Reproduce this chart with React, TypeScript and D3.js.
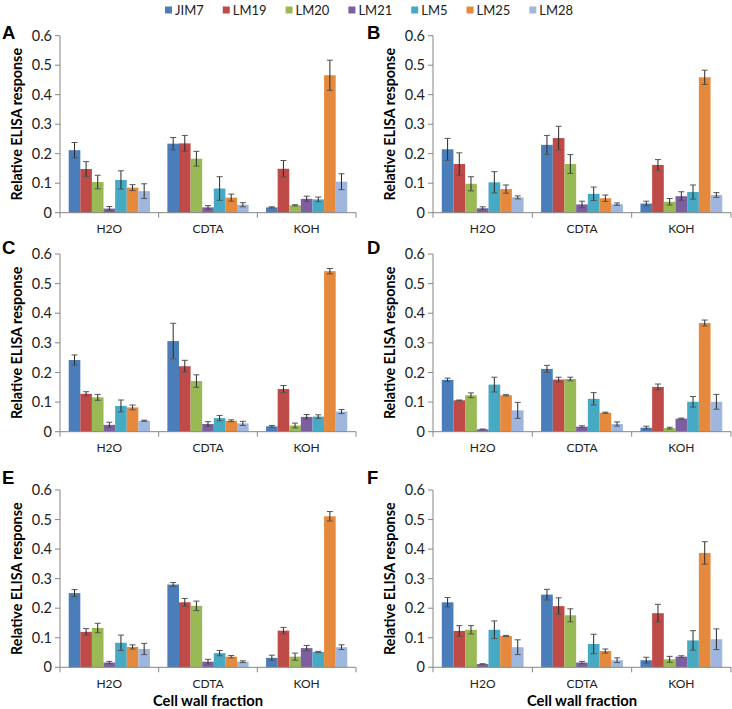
import React from "react";
import * as d3 from "d3";

const categories = ["H2O", "CDTA", "KOH"];
const series = ["JIM7", "LM19", "LM20", "LM21", "LM5", "LM25", "LM28"];
const seriesColors = ["#4A7EBB", "#BE4B48", "#98B954", "#7D5FA0", "#46AAC5", "#E58A3C", "#9FB6DE"];
const yTicks = [0, 0.1, 0.2, 0.3, 0.4, 0.5, 0.6];
const yTickLabels = ["0", "0.1", "0.2", "0.3", "0.4", "0.5", "0.6"];
const panelLabels = ["A", "B", "C", "D", "E", "F"];

// values per category (rows: H2O, CDTA, KOH; columns: series)
const meansA = [
  [0.212, 0.148, 0.104, 0.014, 0.111, 0.085, 0.073],
  [0.234, 0.235, 0.183, 0.018, 0.082, 0.051, 0.027],
  [0.018, 0.149, 0.025, 0.047, 0.045, 0.466, 0.105],
];
const errsA = [
  [0.026, 0.025, 0.023, 0.007, 0.031, 0.01, 0.025],
  [0.021, 0.027, 0.025, 0.006, 0.04, 0.012, 0.007],
  [0.002, 0.028, 0.002, 0.009, 0.008, 0.051, 0.027],
];
const meansB = [
  [0.215, 0.165, 0.098, 0.015, 0.103, 0.08, 0.052],
  [0.23, 0.253, 0.165, 0.028, 0.064, 0.049, 0.029],
  [0.031, 0.162, 0.037, 0.056, 0.07, 0.459, 0.06],
];
const errsB = [
  [0.037, 0.038, 0.024, 0.005, 0.036, 0.014, 0.005],
  [0.032, 0.04, 0.032, 0.011, 0.023, 0.011, 0.004],
  [0.008, 0.018, 0.011, 0.015, 0.024, 0.024, 0.008],
];
const meansC = [
  [0.242, 0.128, 0.116, 0.023, 0.087, 0.082, 0.037],
  [0.306, 0.221, 0.171, 0.026, 0.046, 0.037, 0.028],
  [0.018, 0.144, 0.021, 0.05, 0.051, 0.542, 0.068],
];
const errsC = [
  [0.017, 0.007, 0.01, 0.009, 0.02, 0.008, 0.002],
  [0.06, 0.02, 0.021, 0.008, 0.009, 0.003, 0.007],
  [0.003, 0.012, 0.008, 0.008, 0.006, 0.009, 0.007],
];
const meansD = [
  [0.175, 0.106, 0.123, 0.008, 0.159, 0.123, 0.072],
  [0.212, 0.176, 0.178, 0.017, 0.111, 0.064, 0.026],
  [0.0135, 0.151, 0.012, 0.044, 0.101, 0.367, 0.101],
];
const errsD = [
  [0.006, 0.001, 0.008, 0.001, 0.025, 0.002, 0.027],
  [0.012, 0.008, 0.006, 0.003, 0.021, 0.002, 0.007],
  [0.005, 0.01, 0.003, 0.002, 0.018, 0.01, 0.025],
];
const meansE = [
  [0.251, 0.12, 0.133, 0.016, 0.083, 0.069, 0.062],
  [0.28, 0.22, 0.208, 0.019, 0.048, 0.036, 0.019],
  [0.032, 0.124, 0.036, 0.065, 0.052, 0.511, 0.068],
];
const errsE = [
  [0.012, 0.011, 0.016, 0.004, 0.026, 0.007, 0.019],
  [0.007, 0.013, 0.016, 0.008, 0.009, 0.004, 0.003],
  [0.009, 0.011, 0.012, 0.009, 0.002, 0.016, 0.008],
];
const meansF = [
  [0.22, 0.123, 0.127, 0.011, 0.127, 0.106, 0.068],
  [0.246, 0.207, 0.176, 0.016, 0.079, 0.055, 0.024],
  [0.024, 0.183, 0.027, 0.036, 0.091, 0.387, 0.095],
];
const errsF = [
  [0.016, 0.018, 0.014, 0.001, 0.03, 0.002, 0.025],
  [0.018, 0.028, 0.022, 0.004, 0.033, 0.007, 0.008],
  [0.01, 0.03, 0.01, 0.003, 0.033, 0.038, 0.035],
];

const allMeans = [meansA, meansB, meansC, meansD, meansE, meansF];
const allErrs = [errsA, errsB, errsC, errsD, errsE, errsF];

const W = 732;
const H = 709;
const FONT = "Lato, 'Open Sans', sans-serif";
const AXIS = "#868686";

// layout: column left/right, row top/bottom, letter baseline
const cols = [
  { left: 60, right: 356, letterX: 2 },
  { left: 433, right: 731, letterX: 367 },
];
const rows = [
  { top: 35.7, bottom: 212.7, letterY: 38.5 },
  { top: 254, bottom: 431.7, letterY: 253.5 },
  { top: 490, bottom: 667.3, letterY: 483.5 },
];

function measure(text: string, font: string): number {
  if (typeof document === "undefined") return text.length * 7;
  const c = document.createElement("canvas");
  const ctx = c.getContext("2d");
  if (!ctx) return text.length * 7;
  ctx.font = font;
  return ctx.measureText(text).width;
}

function Panel({ idx }: { idx: number }) {
  const col = cols[idx % 2];
  const row = rows[Math.floor(idx / 2)];
  const means = allMeans[idx];
  const errs = allErrs[idx];
  const x0 = d3.scaleBand<string>().domain(categories).range([col.left, col.right]).paddingInner(0).paddingOuter(0);
  const x1 = d3.scaleBand<string>().domain(series).range([0, x0.bandwidth()]).paddingInner(0).paddingOuter(0.75);
  const y = d3.scaleLinear().domain([0, 0.6]).range([row.bottom, row.top]);
  const bw = x1.bandwidth();
  const isBottom = Math.floor(idx / 2) === 2;
  const cx = (col.left + col.right) / 2;
  const cy = (row.top + row.bottom) / 2;
  const boundaries = [...categories.map((c) => x0(c) as number), col.right];
  return (
    <g>
      <text x={col.letterX} y={row.letterY} fontFamily="'Liberation Sans', Arial, sans-serif" fontWeight="bold" fontSize={18.5} fill="#000">
        {panelLabels[idx]}
      </text>
      {categories.map((cat, ci) => (
        <g key={cat}>
          {series.map((s, si) => {
            const v = means[ci][si];
            const bx = (x0(cat) as number) + (x1(s) as number);
            return <rect key={s} x={bx} y={y(v)} width={bw} height={y(0) - y(v)} fill={seriesColors[si]} />;
          })}
        </g>
      ))}
      {categories.map((cat, ci) => (
        <g key={cat + "e"}>
          {series.map((s, si) => {
            const v = means[ci][si];
            const e = errs[ci][si];
            const mx = (x0(cat) as number) + (x1(s) as number) + bw / 2;
            const y1 = y(v + e);
            const y2 = y(Math.max(0, v - e));
            return (
              <g key={s}>
                <line x1={mx} x2={mx} y1={y1} y2={y2} stroke="#2a2a2a" strokeWidth={1} />
                <line x1={mx - 3} x2={mx + 3} y1={y1} y2={y1} stroke="#555" strokeWidth={1} />
                <line x1={mx - 3} x2={mx + 3} y1={y2} y2={y2} stroke="#555" strokeWidth={1} />
              </g>
            );
          })}
        </g>
      ))}
      <line x1={col.left} x2={col.left} y1={y(0.6)} y2={y(0)} stroke={AXIS} strokeWidth={1} />
      {yTicks.map((t, i) => (
        <g key={t}>
          <line x1={col.left - 5} x2={col.left} y1={y(t)} y2={y(t)} stroke={AXIS} strokeWidth={1} />
          <text x={col.left - 8} y={y(t)} dy="0.35em" textAnchor="end" fontFamily={FONT} fontSize={14.5} fill="#222">
            {yTickLabels[i]}
          </text>
        </g>
      ))}
      <line x1={col.left} x2={col.right} y1={y(0)} y2={y(0)} stroke={AXIS} strokeWidth={1} />
      {boundaries.map((bx, i) => (
        <line key={i} x1={bx} x2={bx} y1={y(0)} y2={y(0) + 5} stroke={AXIS} strokeWidth={1} />
      ))}
      {categories.map((cat) => (
        <text key={cat} x={(x0(cat) as number) + x0.bandwidth() / 2} y={row.bottom + 20.5} textAnchor="middle" fontFamily={FONT} fontSize={12} fill="#222">
          {cat}
        </text>
      ))}
      <text
        transform={`translate(${col.left - 43},${cy}) rotate(-90)`}
        textAnchor="middle"
        dy="0.35em"
        fontFamily={FONT}
        fontWeight="bold"
        fontSize={14.3}
        fill="#000"
      >
        Relative ELISA response
      </text>
      {isBottom && (
        <text x={cx} y={705.5} textAnchor="middle" fontFamily={FONT} fontWeight="bold" fontSize={14.8} fill="#000">
          Cell wall fraction
        </text>
      )}
    </g>
  );
}

function Legend() {
  const legendFont = `13px ${FONT}`;
  const widths = series.map((s) => measure(s, legendFont));
  const sq = 7;
  const gap = 3;
  const spacing = 19;
  let x = 165;
  const items = series.map((s, i) => {
    const it = { s, i, x };
    x += sq + gap + widths[i] + spacing;
    return it;
  });
  return (
    <g>
      {items.map((it) => (
        <g key={it.s}>
          <rect x={it.x} y={10 - sq / 2} width={sq} height={sq} fill={seriesColors[it.i]} />
          <text x={it.x + sq + gap} y={10} dy="0.35em" fontFamily={FONT} fontSize={13} fill="#222">
            {it.s}
          </text>
        </g>
      ))}
    </g>
  );
}

export default function App() {
  return (
    <svg width={W} height={H} style={{ display: "block", position: "absolute", left: 0, top: 0, background: "#fff" }}>
      <rect x={0} y={0} width={W} height={H} fill="#fff" />
      <Legend />
      {panelLabels.map((_, i) => (
        <Panel key={i} idx={i} />
      ))}
    </svg>
  );
}
